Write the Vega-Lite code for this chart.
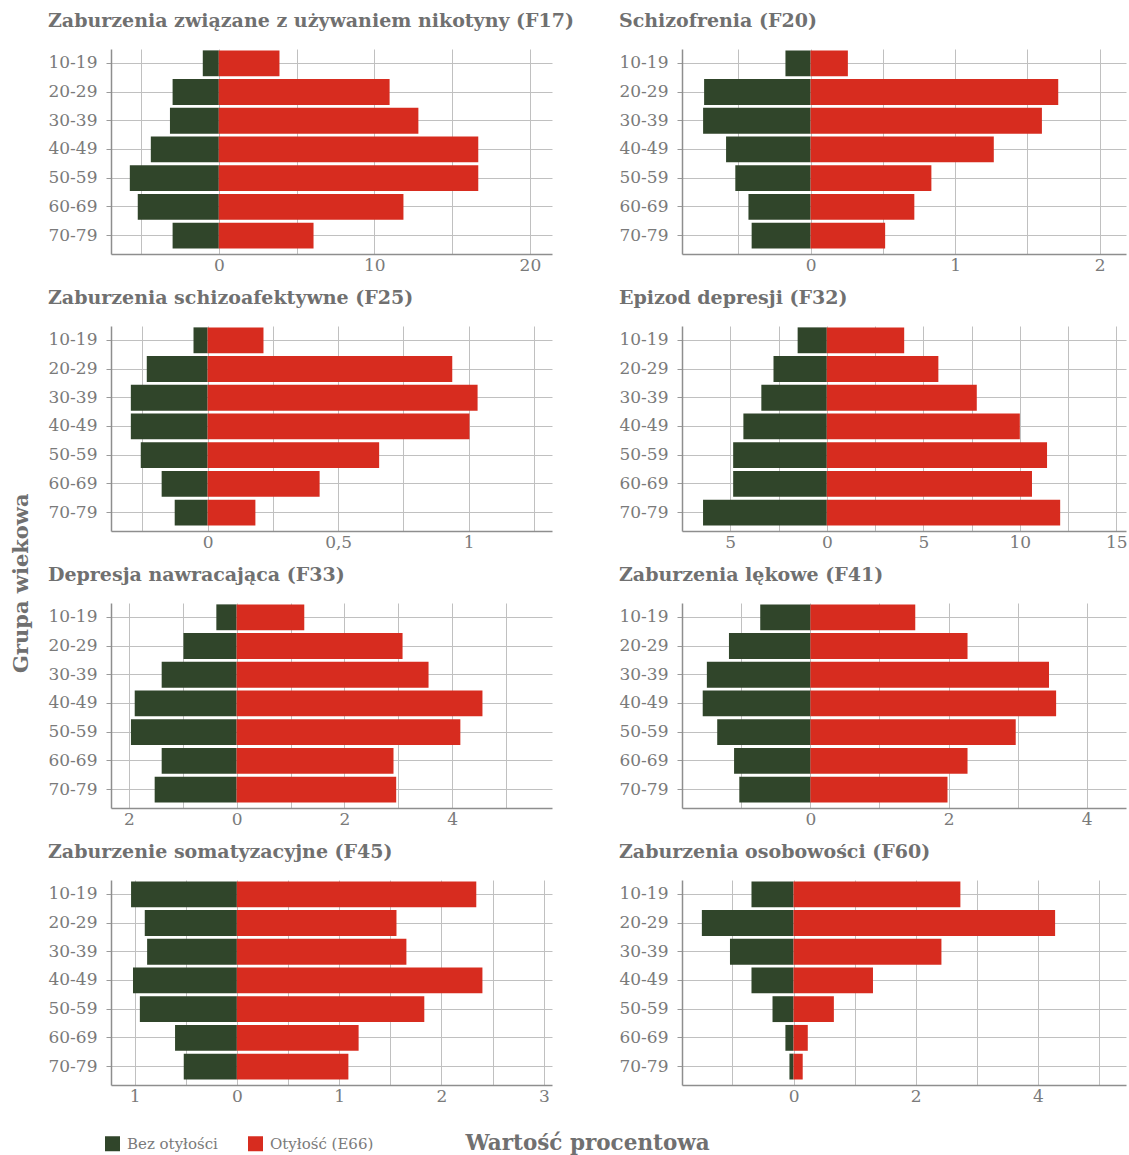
{
  "$schema": "https://vega.github.io/schema/vega-lite/v6.json",
  "background": "white",
  "padding": {"left": 10, "top": 12, "right": 0, "bottom": 0},
  "title": {"text": "Grupa wiekowa", "orient": "left", "anchor": "middle", "fontSize": 21, "fontWeight": "bold", "font": "DejaVu Serif", "color": "#707070", "offset": 16},
  "datasets": {
    "d": [
      {"p": "F17", "age": "10-19", "g": "Bez otyłości", "v": -1.03},
      {"p": "F17", "age": "20-29", "g": "Bez otyłości", "v": -2.97},
      {"p": "F17", "age": "30-39", "g": "Bez otyłości", "v": -3.14},
      {"p": "F17", "age": "40-49", "g": "Bez otyłości", "v": -4.37},
      {"p": "F17", "age": "50-59", "g": "Bez otyłości", "v": -5.72},
      {"p": "F17", "age": "60-69", "g": "Bez otyłości", "v": -5.21},
      {"p": "F17", "age": "70-79", "g": "Bez otyłości", "v": -2.97},
      {"p": "F17", "age": "10-19", "g": "Otyłość (E66)", "v": 3.9},
      {"p": "F17", "age": "20-29", "g": "Otyłość (E66)", "v": 10.98},
      {"p": "F17", "age": "30-39", "g": "Otyłość (E66)", "v": 12.83},
      {"p": "F17", "age": "40-49", "g": "Otyłość (E66)", "v": 16.68},
      {"p": "F17", "age": "50-59", "g": "Otyłość (E66)", "v": 16.68},
      {"p": "F17", "age": "60-69", "g": "Otyłość (E66)", "v": 11.87},
      {"p": "F17", "age": "70-79", "g": "Otyłość (E66)", "v": 6.09},

      {"p": "F20", "age": "10-19", "g": "Bez otyłości", "v": -0.174},
      {"p": "F20", "age": "20-29", "g": "Bez otyłości", "v": -0.737},
      {"p": "F20", "age": "30-39", "g": "Bez otyłości", "v": -0.744},
      {"p": "F20", "age": "40-49", "g": "Bez otyłości", "v": -0.585},
      {"p": "F20", "age": "50-59", "g": "Bez otyłości", "v": -0.521},
      {"p": "F20", "age": "60-69", "g": "Bez otyłości", "v": -0.43},
      {"p": "F20", "age": "70-79", "g": "Bez otyłości", "v": -0.408},
      {"p": "F20", "age": "10-19", "g": "Otyłość (E66)", "v": 0.258},
      {"p": "F20", "age": "20-29", "g": "Otyłość (E66)", "v": 1.714},
      {"p": "F20", "age": "30-39", "g": "Otyłość (E66)", "v": 1.601},
      {"p": "F20", "age": "40-49", "g": "Otyłość (E66)", "v": 1.268},
      {"p": "F20", "age": "50-59", "g": "Otyłość (E66)", "v": 0.836},
      {"p": "F20", "age": "60-69", "g": "Otyłość (E66)", "v": 0.718},
      {"p": "F20", "age": "70-79", "g": "Otyłość (E66)", "v": 0.516},

      {"p": "F25", "age": "10-19", "g": "Bez otyłości", "v": -0.054},
      {"p": "F25", "age": "20-29", "g": "Bez otyłości", "v": -0.233},
      {"p": "F25", "age": "30-39", "g": "Bez otyłości", "v": -0.294},
      {"p": "F25", "age": "40-49", "g": "Bez otyłości", "v": -0.294},
      {"p": "F25", "age": "50-59", "g": "Bez otyłości", "v": -0.256},
      {"p": "F25", "age": "60-69", "g": "Bez otyłości", "v": -0.176},
      {"p": "F25", "age": "70-79", "g": "Bez otyłości", "v": -0.126},
      {"p": "F25", "age": "10-19", "g": "Otyłość (E66)", "v": 0.214},
      {"p": "F25", "age": "20-29", "g": "Otyłość (E66)", "v": 0.937},
      {"p": "F25", "age": "30-39", "g": "Otyłość (E66)", "v": 1.034},
      {"p": "F25", "age": "40-49", "g": "Otyłość (E66)", "v": 1.003},
      {"p": "F25", "age": "50-59", "g": "Otyłość (E66)", "v": 0.657},
      {"p": "F25", "age": "60-69", "g": "Otyłość (E66)", "v": 0.429},
      {"p": "F25", "age": "70-79", "g": "Otyłość (E66)", "v": 0.183},

      {"p": "F32", "age": "10-19", "g": "Bez otyłości", "v": -1.51},
      {"p": "F32", "age": "20-29", "g": "Bez otyłości", "v": -2.76},
      {"p": "F32", "age": "30-39", "g": "Bez otyłości", "v": -3.39},
      {"p": "F32", "age": "40-49", "g": "Bez otyłości", "v": -4.32},
      {"p": "F32", "age": "50-59", "g": "Bez otyłości", "v": -4.85},
      {"p": "F32", "age": "60-69", "g": "Bez otyłości", "v": -4.85},
      {"p": "F32", "age": "70-79", "g": "Bez otyłości", "v": -6.41},
      {"p": "F32", "age": "10-19", "g": "Otyłość (E66)", "v": 4.01},
      {"p": "F32", "age": "20-29", "g": "Otyłość (E66)", "v": 5.78},
      {"p": "F32", "age": "30-39", "g": "Otyłość (E66)", "v": 7.77},
      {"p": "F32", "age": "40-49", "g": "Otyłość (E66)", "v": 10.0},
      {"p": "F32", "age": "50-59", "g": "Otyłość (E66)", "v": 11.41},
      {"p": "F32", "age": "60-69", "g": "Otyłość (E66)", "v": 10.63},
      {"p": "F32", "age": "70-79", "g": "Otyłość (E66)", "v": 12.09},

      {"p": "F33", "age": "10-19", "g": "Bez otyłości", "v": -0.376},
      {"p": "F33", "age": "20-29", "g": "Bez otyłości", "v": -0.986},
      {"p": "F33", "age": "30-39", "g": "Bez otyłości", "v": -1.39},
      {"p": "F33", "age": "40-49", "g": "Bez otyłości", "v": -1.89},
      {"p": "F33", "age": "50-59", "g": "Bez otyłości", "v": -1.96},
      {"p": "F33", "age": "60-69", "g": "Bez otyłości", "v": -1.39},
      {"p": "F33", "age": "70-79", "g": "Bez otyłości", "v": -1.52},
      {"p": "F33", "age": "10-19", "g": "Otyłość (E66)", "v": 1.255},
      {"p": "F33", "age": "20-29", "g": "Otyłość (E66)", "v": 3.078},
      {"p": "F33", "age": "30-39", "g": "Otyłość (E66)", "v": 3.56},
      {"p": "F33", "age": "40-49", "g": "Otyłość (E66)", "v": 4.56},
      {"p": "F33", "age": "50-59", "g": "Otyłość (E66)", "v": 4.15},
      {"p": "F33", "age": "60-69", "g": "Otyłość (E66)", "v": 2.91},
      {"p": "F33", "age": "70-79", "g": "Otyłość (E66)", "v": 2.96},

      {"p": "F41", "age": "10-19", "g": "Bez otyłości", "v": -0.727},
      {"p": "F41", "age": "20-29", "g": "Bez otyłości", "v": -1.18},
      {"p": "F41", "age": "30-39", "g": "Bez otyłości", "v": -1.5},
      {"p": "F41", "age": "40-49", "g": "Bez otyłości", "v": -1.56},
      {"p": "F41", "age": "50-59", "g": "Bez otyłości", "v": -1.35},
      {"p": "F41", "age": "60-69", "g": "Bez otyłości", "v": -1.106},
      {"p": "F41", "age": "70-79", "g": "Bez otyłości", "v": -1.03},
      {"p": "F41", "age": "10-19", "g": "Otyłość (E66)", "v": 1.518},
      {"p": "F41", "age": "20-29", "g": "Otyłość (E66)", "v": 2.275},
      {"p": "F41", "age": "30-39", "g": "Otyłość (E66)", "v": 3.455},
      {"p": "F41", "age": "40-49", "g": "Otyłość (E66)", "v": 3.558},
      {"p": "F41", "age": "50-59", "g": "Otyłość (E66)", "v": 2.973},
      {"p": "F41", "age": "60-69", "g": "Otyłość (E66)", "v": 2.275},
      {"p": "F41", "age": "70-79", "g": "Otyłość (E66)", "v": 1.985},

      {"p": "F45", "age": "10-19", "g": "Bez otyłości", "v": -1.034},
      {"p": "F45", "age": "20-29", "g": "Bez otyłości", "v": -0.9},
      {"p": "F45", "age": "30-39", "g": "Bez otyłości", "v": -0.877},
      {"p": "F45", "age": "40-49", "g": "Bez otyłości", "v": -1.015},
      {"p": "F45", "age": "50-59", "g": "Bez otyłości", "v": -0.948},
      {"p": "F45", "age": "60-69", "g": "Bez otyłości", "v": -0.604},
      {"p": "F45", "age": "70-79", "g": "Bez otyłości", "v": -0.519},
      {"p": "F45", "age": "10-19", "g": "Otyłość (E66)", "v": 2.34},
      {"p": "F45", "age": "20-29", "g": "Otyłość (E66)", "v": 1.56},
      {"p": "F45", "age": "30-39", "g": "Otyłość (E66)", "v": 1.657},
      {"p": "F45", "age": "40-49", "g": "Otyłość (E66)", "v": 2.4},
      {"p": "F45", "age": "50-59", "g": "Otyłość (E66)", "v": 1.832},
      {"p": "F45", "age": "60-69", "g": "Otyłość (E66)", "v": 1.19},
      {"p": "F45", "age": "70-79", "g": "Otyłość (E66)", "v": 1.09},

      {"p": "F60", "age": "10-19", "g": "Bez otyłości", "v": -0.688},
      {"p": "F60", "age": "20-29", "g": "Bez otyłości", "v": -1.5},
      {"p": "F60", "age": "30-39", "g": "Bez otyłości", "v": -1.04},
      {"p": "F60", "age": "40-49", "g": "Bez otyłości", "v": -0.688},
      {"p": "F60", "age": "50-59", "g": "Bez otyłości", "v": -0.344},
      {"p": "F60", "age": "60-69", "g": "Bez otyłości", "v": -0.133},
      {"p": "F60", "age": "70-79", "g": "Bez otyłości", "v": -0.067},
      {"p": "F60", "age": "10-19", "g": "Otyłość (E66)", "v": 2.73},
      {"p": "F60", "age": "20-29", "g": "Otyłość (E66)", "v": 4.28},
      {"p": "F60", "age": "30-39", "g": "Otyłość (E66)", "v": 2.42},
      {"p": "F60", "age": "40-49", "g": "Otyłość (E66)", "v": 1.3},
      {"p": "F60", "age": "50-59", "g": "Otyłość (E66)", "v": 0.66},
      {"p": "F60", "age": "60-69", "g": "Otyłość (E66)", "v": 0.233},
      {"p": "F60", "age": "70-79", "g": "Otyłość (E66)", "v": 0.15}
    ]
  },
  "config": {
    "font": "DejaVu Serif",
    "view": {"stroke": null},
    "title": {"anchor": "start", "fontSize": 19, "fontWeight": "bold", "color": "#707070", "font": "DejaVu Serif", "offset": 18},
    "axis": {"labelFont": "DejaVu Serif", "labelFontSize": 17, "labelColor": "#7a7a7a", "gridColor": "#c0c0c0", "gridWidth": 1, "domainColor": "#8e8e8e", "domainWidth": 1.5, "tickColor": "#9a9a9a", "title": null},
    "axisX": {"ticks": false, "labelPadding": 3, "labelOverlap": false, "labelFlush": false},
    "axisY": {"ticks": true, "tickSize": 5, "labelPadding": 9, "bandPosition": 0.5, "grid": true},
    "scale": {"bandPaddingInner": 0.1, "bandPaddingOuter": 0.12},
    "legend": {"orient": "none", "legendX": -6, "legendY": 1087, "direction": "horizontal", "symbolType": "square", "symbolSize": 225, "symbolStrokeWidth": 0, "labelFontSize": 15, "labelColor": "#7a7a7a", "labelFont": "DejaVu Serif", "columnPadding": 30, "labelOffset": 7, "title": null}
  },
  "vconcat": [
    {
      "title": {"text": "Wartość procentowa", "orient": "bottom", "anchor": "middle", "fontSize": 21.5, "fontWeight": "bold", "color": "#707070", "offset": 29},
      "columns": 2,
      "spacing": {"row": 16, "column": 43},
      "concat": [
        {
          "title": "Zaburzenia związane z używaniem nikotyny (F17)",
          "width": 441, "height": 205,
          "data": {"name": "d"},
          "transform": [{"filter": "datum.p == 'F17'"}],
          "mark": {"type": "bar"},
          "encoding": {
            "y": {"field": "age", "type": "nominal", "sort": null, "scale": {"align": 0.2}},
            "x": {"field": "v", "type": "quantitative", "scale": {"domain": [-6.93, 21.42], "nice": false, "zero": false},
                  "axis": {"values": [-5, 0, 5, 10, 15, 20], "labelExpr": "abs(datum.value) % 10 == 0 ? abs(datum.value) + '' : ''"}},
            "color": {"field": "g", "type": "nominal", "scale": {"domain": ["Bez otyłości", "Otyłość (E66)"], "range": ["#30452a", "#d72c1f"]}}
          }
        },
        {
          "title": "Schizofrenia (F20)",
          "width": 444, "height": 205,
          "data": {"name": "d"},
          "transform": [{"filter": "datum.p == 'F20'"}],
          "mark": {"type": "bar"},
          "encoding": {
            "y": {"field": "age", "type": "nominal", "sort": null, "scale": {"align": 0.2}},
            "x": {"field": "v", "type": "quantitative", "scale": {"domain": [-0.89, 2.183], "nice": false, "zero": false},
                  "axis": {"values": [-0.5, 0, 0.5, 1, 1.5, 2], "labelExpr": "abs(datum.value) % 1 == 0 ? abs(datum.value) + '' : ''"}},
            "color": {"field": "g", "type": "nominal", "scale": {"domain": ["Bez otyłości", "Otyłość (E66)"], "range": ["#30452a", "#d72c1f"]}}
          }
        },
        {
          "title": "Zaburzenia schizoafektywne (F25)",
          "width": 441, "height": 205,
          "data": {"name": "d"},
          "transform": [{"filter": "datum.p == 'F25'"}],
          "mark": {"type": "bar"},
          "encoding": {
            "y": {"field": "age", "type": "nominal", "sort": null, "scale": {"align": 0.2}},
            "x": {"field": "v", "type": "quantitative", "scale": {"domain": [-0.37, 1.319], "nice": false, "zero": false},
                  "axis": {"values": [-0.25, 0, 0.25, 0.5, 0.75, 1, 1.25], "labelExpr": "abs(datum.value) % 0.5 == 0 ? replace(abs(datum.value) + '', '.', ',') : ''"}},
            "color": {"field": "g", "type": "nominal", "scale": {"domain": ["Bez otyłości", "Otyłość (E66)"], "range": ["#30452a", "#d72c1f"]}}
          }
        },
        {
          "title": "Epizod depresji (F32)",
          "width": 444, "height": 205,
          "data": {"name": "d"},
          "transform": [{"filter": "datum.p == 'F32'"}],
          "mark": {"type": "bar"},
          "encoding": {
            "y": {"field": "age", "type": "nominal", "sort": null, "scale": {"align": 0.2}},
            "x": {"field": "v", "type": "quantitative", "scale": {"domain": [-7.5, 15.5], "nice": false, "zero": false},
                  "axis": {"values": [-5, -2.5, 0, 2.5, 5, 7.5, 10, 12.5, 15], "labelExpr": "abs(datum.value) % 5 == 0 ? abs(datum.value) + '' : ''"}},
            "color": {"field": "g", "type": "nominal", "scale": {"domain": ["Bez otyłości", "Otyłość (E66)"], "range": ["#30452a", "#d72c1f"]}}
          }
        },
        {
          "title": "Depresja nawracająca (F33)",
          "width": 441, "height": 205,
          "data": {"name": "d"},
          "transform": [{"filter": "datum.p == 'F33'"}],
          "mark": {"type": "bar"},
          "encoding": {
            "y": {"field": "age", "type": "nominal", "sort": null, "scale": {"align": 0.2}},
            "x": {"field": "v", "type": "quantitative", "scale": {"domain": [-2.33, 5.85], "nice": false, "zero": false},
                  "axis": {"values": [-2, -1, 0, 1, 2, 3, 4, 5], "labelExpr": "abs(datum.value) % 2 == 0 ? abs(datum.value) + '' : ''"}},
            "color": {"field": "g", "type": "nominal", "scale": {"domain": ["Bez otyłości", "Otyłość (E66)"], "range": ["#30452a", "#d72c1f"]}}
          }
        },
        {
          "title": "Zaburzenia lękowe (F41)",
          "width": 444, "height": 205,
          "data": {"name": "d"},
          "transform": [{"filter": "datum.p == 'F41'"}],
          "mark": {"type": "bar"},
          "encoding": {
            "y": {"field": "age", "type": "nominal", "sort": null, "scale": {"align": 0.2}},
            "x": {"field": "v", "type": "quantitative", "scale": {"domain": [-1.86, 4.57], "nice": false, "zero": false},
                  "axis": {"values": [-1, 0, 1, 2, 3, 4], "labelExpr": "abs(datum.value) % 2 == 0 ? abs(datum.value) + '' : ''"}},
            "color": {"field": "g", "type": "nominal", "scale": {"domain": ["Bez otyłości", "Otyłość (E66)"], "range": ["#30452a", "#d72c1f"]}}
          }
        },
        {
          "title": "Zaburzenie somatyzacyjne (F45)",
          "width": 441, "height": 205,
          "data": {"name": "d"},
          "transform": [{"filter": "datum.p == 'F45'"}],
          "mark": {"type": "bar"},
          "encoding": {
            "y": {"field": "age", "type": "nominal", "sort": null, "scale": {"align": 0.2}},
            "x": {"field": "v", "type": "quantitative", "scale": {"domain": [-1.23, 3.08], "nice": false, "zero": false},
                  "axis": {"values": [-1, -0.5, 0, 0.5, 1, 1.5, 2, 2.5, 3], "labelExpr": "abs(datum.value) % 1 == 0 ? abs(datum.value) + '' : ''"}},
            "color": {"field": "g", "type": "nominal", "scale": {"domain": ["Bez otyłości", "Otyłość (E66)"], "range": ["#30452a", "#d72c1f"]}}
          }
        },
        {
          "title": "Zaburzenia osobowości (F60)",
          "width": 444, "height": 205,
          "data": {"name": "d"},
          "transform": [{"filter": "datum.p == 'F60'"}],
          "mark": {"type": "bar"},
          "encoding": {
            "y": {"field": "age", "type": "nominal", "sort": null, "scale": {"align": 0.2}},
            "x": {"field": "v", "type": "quantitative", "scale": {"domain": [-1.825, 5.44], "nice": false, "zero": false},
                  "axis": {"values": [-1, 0, 1, 2, 3, 4, 5], "labelExpr": "abs(datum.value) % 2 == 0 ? abs(datum.value) + '' : ''"}},
            "color": {"field": "g", "type": "nominal", "scale": {"domain": ["Bez otyłości", "Otyłość (E66)"], "range": ["#30452a", "#d72c1f"]}}
          }
        }
      ]
    }
  ]
}
